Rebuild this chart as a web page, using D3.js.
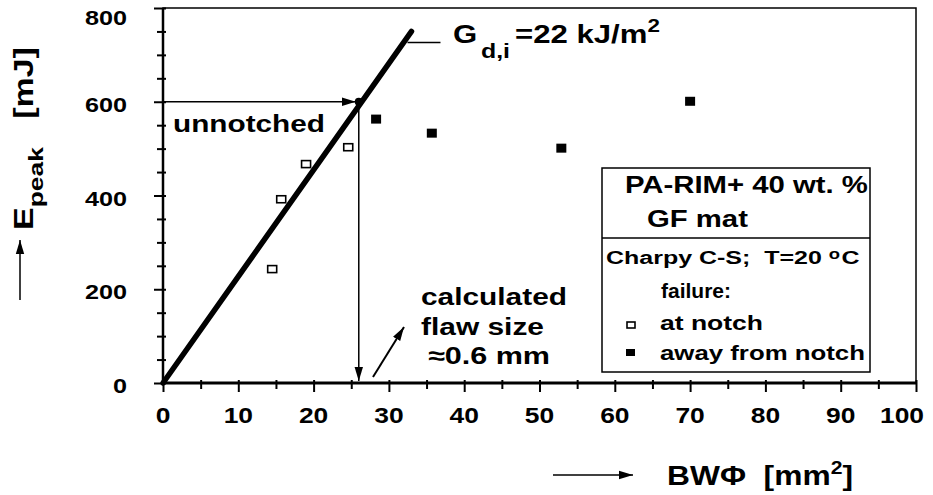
<!DOCTYPE html>
<html>
<head>
<meta charset="utf-8">
<script src="https://cdn.jsdelivr.net/npm/d3@7"></script>
<style>
  body { margin: 0; background: #fff; }
  text { font-family: "Liberation Sans", Arial, sans-serif; font-weight: bold; fill: #000; white-space: pre; }
</style>
</head>
<body>
<div id="graph"></div>
<script>
// data
var atNotchX = [14.5, 15.7, 19.0, 24.6];
var atNotchY = [243, 392, 467, 503];
var awayX = [28.3, 35.7, 52.9, 70.0];
var awayY = [563, 533, 501, 601];
var unnotchedE = 600;
var flawBW = 26;
var Gline = [[0, 0], [33, 750]];
var xTicks = [0, 10, 20, 30, 40, 50, 60, 70, 80, 90, 100];
var yTicks = [0, 200, 400, 600, 800];

var width = 933, height = 495;
var margin = {top: 8, left: 163, right: 17, bottom: 112};

var x = d3.scaleLinear().domain([0, 100]).range([margin.left, width - margin.right]);
var y = d3.scaleLinear().domain([0, 800]).range([height - margin.bottom, margin.top]);

var svg = d3.select("#graph").append("svg")
    .attr("width", width).attr("height", height);

svg.append("defs").append("marker").attr("id", "ah")
    .attr("viewBox", "0 0 10 10").attr("refX", 10).attr("refY", 5)
    .attr("markerWidth", 14).attr("markerHeight", 14)
    .attr("markerUnits", "userSpaceOnUse")
    .attr("orient", "auto")
  .append("path").attr("d", "M0,2 L10,5 L0,8 Z").attr("fill", "#000");

// stretch a text horizontally so it spans w pixels from x0 (font in the picture is wide)
function fit(t, x0, w) {
  var bb = t.node().getBBox();
  t.attr("transform", "translate(" + x0 + ",0) scale(" + (w / bb.width) + ",1) translate(" + (-bb.x) + ",0)");
  return t;
}

// frame
svg.append("rect")
    .attr("x", x(0)).attr("y", y(800))
    .attr("width", x(100) - x(0)).attr("height", y(0) - y(800))
    .attr("fill", "none").attr("stroke", "#000").attr("stroke-width", 1.5);
svg.append("line").attr("x1", x(0)).attr("x2", x(100)).attr("y1", y(0)).attr("y2", y(0))
    .attr("stroke", "#000").attr("stroke-width", 3);
svg.append("line").attr("x1", x(0)).attr("x2", x(0)).attr("y1", y(0)).attr("y2", y(800))
    .attr("stroke", "#000").attr("stroke-width", 2.5);

// axes
var xAxis = d3.axisBottom(x).tickValues(d3.range(0, 101, 5)).tickSize(0).tickFormat("");
var gx = svg.append("g").attr("transform", "translate(0," + y(0) + ")").call(xAxis);
gx.select(".domain").remove();
gx.selectAll(".tick line")
    .attr("y1", -3)
    .attr("y2", function(d){ return d % 10 == 0 ? 9 : 6; })
    .attr("stroke", "#000").attr("stroke-width", 2);
svg.append("g").selectAll("text").data(xTicks).enter().append("text")
    .attr("transform", function(d){
      // last label is pulled in so it stays on the page
      var px = d == 100 ? x(d) + 8 : x(d);
      return "translate(" + px + "," + (y(0) + 40) + ") scale(1.2,1)";
    })
    .attr("text-anchor", function(d){ return d == 100 ? "end" : "middle"; })
    .attr("font-size", 22)
    .text(function(d){ return d; });

var yAxis = d3.axisLeft(y).tickValues(d3.range(0, 801, 50)).tickSize(0).tickFormat("");
var gy = svg.append("g").attr("transform", "translate(" + x(0) + ",0)").call(yAxis);
gy.select(".domain").remove();
gy.selectAll(".tick line")
    .attr("x1", 3)
    .attr("x2", function(d){ return d % 200 == 0 ? -9 : -6; })
    .attr("stroke", "#000").attr("stroke-width", 2);
svg.append("g").selectAll("text").data(yTicks).enter().append("text")
    .attr("transform", function(d){ return "translate(" + (x(0) - 36) + "," + Math.max(y(d) + 10, 25) + ") scale(1.2,1)"; })
    .attr("text-anchor", "end").attr("font-size", 21)
    .text(function(d){ return d; });

// G line
svg.append("line")
    .attr("x1", x(Gline[0][0])).attr("y1", y(Gline[0][1]))
    .attr("x2", x(Gline[1][0])).attr("y2", y(Gline[1][1]))
    .attr("stroke", "#000").attr("stroke-width", 5.5).attr("stroke-linecap", "round");
svg.append("line")
    .attr("x1", x(Gline[1][0]) - 4).attr("x2", x(Gline[1][0]) + 29)
    .attr("y1", y(Gline[1][1]) + 11).attr("y2", y(Gline[1][1]) + 11)
    .attr("stroke", "#000").attr("stroke-width", 1.5);
var gt = svg.append("text").attr("y", 43).attr("font-size", 25);
gt.append("tspan").text("G");
gt.append("tspan").attr("dy", 15).attr("dx", 3).attr("font-size", 20).text("d,i");
gt.append("tspan").attr("dy", -15).attr("dx", 4).text("=22 kJ/m");
gt.append("tspan").attr("dy", -11).attr("font-size", 18).text("2");
fit(gt, 453, 207);

// unnotched arrows
svg.append("line")
    .attr("x1", x(0)).attr("y1", y(unnotchedE))
    .attr("x2", x(flawBW) - 3).attr("y2", y(unnotchedE))
    .attr("stroke", "#000").attr("stroke-width", 1.5)
    .attr("marker-end", "url(#ah)");
svg.append("line")
    .attr("x1", x(flawBW)).attr("y1", y(unnotchedE))
    .attr("x2", x(flawBW)).attr("y2", y(0) - 2)
    .attr("stroke", "#000").attr("stroke-width", 1.5)
    .attr("marker-end", "url(#ah)");
svg.append("circle").attr("cx", x(flawBW)).attr("cy", y(unnotchedE)).attr("r", 4).attr("fill", "#000");
fit(svg.append("text").attr("y", 132).attr("font-size", 24).text("unnotched"), 173, 152);

// diagonal arrow + calculated flaw size
svg.append("line")
    .attr("x1", 373).attr("y1", 377).attr("x2", 404).attr("y2", 327)
    .attr("stroke", "#000").attr("stroke-width", 2)
    .attr("marker-end", "url(#ah)");
fit(svg.append("text").attr("y", 305).attr("font-size", 24).text("calculated"), 421, 146);
fit(svg.append("text").attr("y", 335).attr("font-size", 24).text("flaw size"), 421, 123);
fit(svg.append("text").attr("y", 364).attr("font-size", 24).text("\u22480.6 mm"), 428, 122);

// points
svg.append("g").selectAll("rect").data(atNotchX).enter().append("rect")
    .attr("x", function(d){ return x(d) - 4.5; })
    .attr("y", function(d, i){ return y(atNotchY[i]) - 3.5; })
    .attr("width", 9).attr("height", 7)
    .attr("fill", "#fff").attr("stroke", "#000").attr("stroke-width", 1.6);
svg.append("g").selectAll("rect").data(awayX).enter().append("rect")
    .attr("x", function(d){ return x(d) - 5; })
    .attr("y", function(d, i){ return y(awayY[i]) - 4.5; })
    .attr("width", 10).attr("height", 9)
    .attr("fill", "#000");

// legend box
var lg = svg.append("g");
lg.append("rect").attr("x", 602).attr("y", 168).attr("width", 268).attr("height", 204)
    .attr("fill", "#fff").attr("stroke", "#000").attr("stroke-width", 1.5);
lg.append("line").attr("x1", 602).attr("x2", 870).attr("y1", 238).attr("y2", 238)
    .attr("stroke", "#000").attr("stroke-width", 1.5);
fit(lg.append("text").attr("y", 193).attr("font-size", 24).text("PA-RIM+ 40 wt. %"), 625, 243);
fit(lg.append("text").attr("y", 227).attr("font-size", 24).text("GF mat"), 647, 101);
var ch = lg.append("text").attr("y", 264).attr("font-size", 19);
ch.append("tspan").text("Charpy C-S;  T=20 ");
ch.append("tspan").attr("dy", -5).attr("font-size", 14).text("o");
ch.append("tspan").attr("dy", 5).attr("dx", 1).text("C");
fit(ch, 606, 254);
fit(lg.append("text").attr("y", 298).attr("font-size", 20).text("failure:"), 661, 70);
lg.append("rect").attr("x", 627).attr("y", 322).attr("width", 8).attr("height", 6)
    .attr("fill", "#fff").attr("stroke", "#000").attr("stroke-width", 1.6);
fit(lg.append("text").attr("y", 330).attr("font-size", 20).text("at notch"), 660, 103);
lg.append("rect").attr("x", 626).attr("y", 349).attr("width", 9).attr("height", 7).attr("fill", "#000");
fit(lg.append("text").attr("y", 360).attr("font-size", 20).text("away from notch"), 660, 205);

// axis titles
svg.append("line").attr("x1", 553).attr("x2", 633).attr("y1", 475).attr("y2", 475)
    .attr("stroke", "#000").attr("stroke-width", 1.5).attr("marker-end", "url(#ah)");
var xt = svg.append("text").attr("y", 485).attr("font-size", 27);
xt.append("tspan").text("BW\u03A6  [mm");
xt.append("tspan").attr("dy", -11).attr("font-size", 18).text("2");
xt.append("tspan").attr("dy", 11).text("]");
fit(xt, 667, 186);

svg.append("line").attr("x1", 20).attr("x2", 20).attr("y1", 300).attr("y2", 240)
    .attr("stroke", "#000").attr("stroke-width", 1.5).attr("marker-end", "url(#ah)");
var yg = svg.append("g").attr("transform", "translate(33,230) rotate(-90)");
var yt = yg.append("text").attr("font-size", 27);
yt.append("tspan").text("E");
yt.append("tspan").attr("dy", 10).attr("font-size", 21).text("peak");
yt.append("tspan").attr("dy", -10).text("   [mJ]");
fit(yt, 0, 183);
</script>
</body>
</html>
